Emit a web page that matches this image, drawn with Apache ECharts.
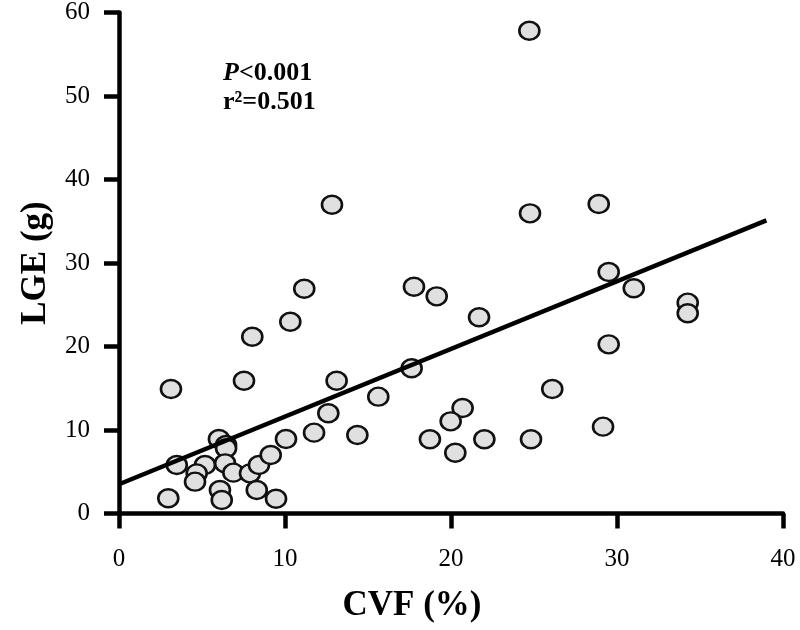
<!DOCTYPE html>
<html>
<head>
<meta charset="utf-8">
<script src="https://cdn.jsdelivr.net/npm/echarts@6/dist/echarts.min.js"></script>
<style>html,body{margin:0;padding:0;background:#fff}#chart{width:800px;height:630px}</style>
</head>
<body>
<div id="chart"></div>
<script>
// CVF (%) values
const cvf = [24.72,24.76,28.90,29.50,31.01,34.26,34.26,21.69,17.77,19.14,29.50,17.63,26.10,20.70,19.98,18.73,22.01,24.82,20.26,29.16,
  12.83,11.16,10.32,8.03,3.13,7.53,13.11,15.62,12.61,10.06,11.75,14.36,2.97,3.48,5.18,4.68,4.58,6.02,6.45,6.45,6.39,6.89,7.89,8.43,9.14,6.08,6.19,8.30,9.46];
// LGE (g) values
const lge = [57.82,35.95,37.07,28.92,26.97,25.25,23.98,23.50,27.16,26.01,20.26,17.39,14.91,12.63,11.04,8.89,8.89,8.89,7.28,10.40,
  36.98,26.92,22.97,21.17,14.91,15.90,15.90,13.99,12.00,8.92,9.68,9.40,1.82,5.81,5.81,4.81,3.81,8.92,8.20,7.81,6.01,4.89,4.81,5.81,7.01,2.81,1.62,2.81,1.77];
// regression line end points
const fitX = [0, 39];
const fitY = [3.5, 35.1];
const xTicks = {min: 0, max: 40, interval: 10};
const yTicks = {min: 0, max: 60, interval: 10};
const pText = '<0.001';
const r2Text = 'r²=0.501';

const font = 'Liberation Serif';
const chart = echarts.init(document.getElementById('chart'));
const axisCommon = {
  axisLine: {show: true, onZero: false, lineStyle: {color: '#000', width: 4.5}},
  axisTick: {show: true, inside: false, length: 15, lineStyle: {color: '#000', width: 4.5}},
  splitLine: {show: false},
  axisLabel: {color: '#000', fontFamily: font, fontSize: 25}
};
chart.setOption({
  animation: false,
  grid: {left: 119, right: 17, top: 12.5, bottom: 116.5},
  xAxis: Object.assign({type: 'value', min: xTicks.min, max: xTicks.max, interval: xTicks.interval}, axisCommon,
    {axisLabel: Object.assign({}, axisCommon.axisLabel, {margin: 33})}),
  yAxis: Object.assign({type: 'value', min: yTicks.min, max: yTicks.max, interval: yTicks.interval,
    name: 'LGE (g)', nameLocation: 'middle', nameGap: 66, nameRotate: 90,
    nameTextStyle: {fontFamily: font, fontWeight: 'bold', fontSize: 35, color: '#000'}}, axisCommon,
    {axisLabel: Object.assign({}, axisCommon.axisLabel, {margin: 29})}),
  series: [
    {
      type: 'scatter',
      data: cvf.map((x, i) => [x, lge[i]]),
      symbol: 'circle',
      symbolSize: [20, 18],
      itemStyle: {color: '#e0e0e0', borderColor: '#111', borderWidth: 2.5, opacity: 1},
      clip: false,
      z: 3
    },
    {
      type: 'line',
      data: fitX.map((x, i) => [x, fitY[i]]),
      symbol: 'none',
      lineStyle: {color: '#000', width: 4.5},
      z: 4
    }
  ],
  graphic: [
    {type: 'text', left: 223, top: 60, style: {
      text: '{i|P}{b|' + pText + '}',
      rich: {
        i: {fontFamily: font, fontWeight: 'bold', fontStyle: 'italic', fontSize: 26, fill: '#000'},
        b: {fontFamily: font, fontWeight: 'bold', fontSize: 26, fill: '#000'}
      }}},
    {type: 'text', left: 223, top: 89, style: {
      text: r2Text, fontFamily: font, fontWeight: 'bold', fontSize: 26, fill: '#000'}},
    {type: 'text', x: 412, y: 606, style: {
      text: 'CVF (%)', fontFamily: font, fontWeight: 'bold', fontSize: 35, fill: '#000',
      align: 'center', verticalAlign: 'middle'}}
  ]
});
</script>
</body>
</html>
